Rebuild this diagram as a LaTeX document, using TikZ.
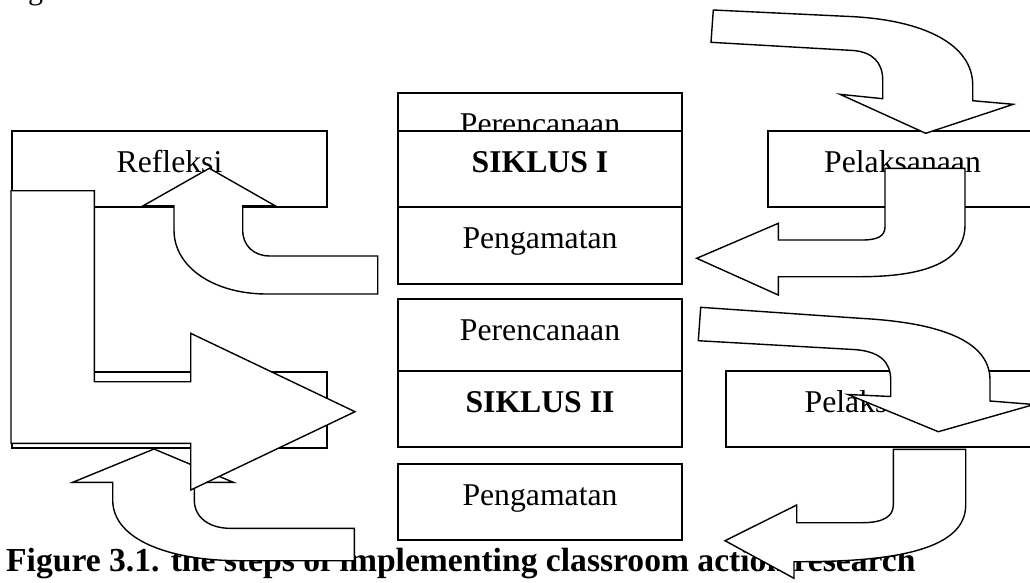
\documentclass[tikz,border=0pt]{standalone}
\usepackage{fontspec}
\setmainfont{Liberation Serif}
\usetikzlibrary{calc}
\tikzset{
  stagebox/.style={
    draw=black,
    line width=2pt,
    fill=white,
    inner sep=0pt,
    anchor=north west
  },
  stagetext/.style={
    font=\fontsize{31.7}{38}\selectfont,
    anchor=base,
    inner sep=0pt
  },
  blockarrow/.style={
    draw=black,
    line width=1.4pt,
    fill=white,
    line join=miter
  },
  captiontext/.style={
    font=\bfseries\fontsize{33.6}{40}\selectfont,
    anchor=base west,
    inner sep=0pt
  }
}
\newcommand{\stagenode}[5]{%
  \node[stagebox, minimum width=#3, minimum height=#4] (#1) at (#2) {};
  \node[stagetext] (#1-text) at ([yshift=-42pt]#1.north) {#5};
}

\begin{document}
\begin{tikzpicture}[x=1pt,y=-1pt]
\useasboundingbox (0,0) rectangle (1030,582);

% Text around the figure.
\node[font=\fontsize{30}{36}\selectfont, anchor=base west, inner sep=0pt] (prevline) at (28,-1) {g};
\node[captiontext] (caption) at (6,571.7) {Figure 3.1. the steps of implementing classroom action research};

% Cycle I column.
\stagenode{planA}{397,92}{284}{76}{Perencanaan}
\stagenode{cycleA}{397,130}{284}{76}{\textbf{SIKLUS I}}
\stagenode{observeA}{397,206}{284}{77}{Pengamatan}

% Cycle II column.
\stagenode{planB}{397,298}{284}{72}{Perencanaan}
\stagenode{cycleB}{397,370}{284}{76}{\textbf{SIKLUS II}}
\stagenode{observeB}{397,463}{284}{76}{Pengamatan}

% Side boxes.
\stagenode{reflectA}{11,130}{315}{76}{Refleksi}
\stagenode{actA}{767,130}{269}{76}{Pelaksanaan}
\node[stagebox, minimum width=315, minimum height=76] (reflectB) at (11,371) {};
\stagenode{actB}{725,370}{314}{76}{Pelaksanaan}

% Observation back to reflection.
\draw[blockarrow] (377.7,256) -- (270,256) .. controls (254,256) and (242.7,246) .. (242.7,230)
  -- (242.7,205.7) -- (275,205.7) -- (209.3,168.3) -- (143.3,205.7) -- (174,205.7) -- (174,230)
  .. controls (174,268) and (215,294) .. (266.7,294) -- (377.7,294) -- cycle;
\draw[blockarrow] (354.3,528.3) -- (230,528.3) .. controls (210,528.3) and (194.3,518) .. (194.3,500)
  -- (194.3,482.3) -- (233.3,482.3) -- (154,449) -- (72.7,482.3) -- (112.7,482.3) -- (112.7,500)
  .. controls (112.7,540) and (170,560.7) .. (240,560.7) -- (354.3,560.7) -- cycle;

% Reflection of cycle I into cycle II.
\draw[blockarrow] (11,190.7) -- (94.3,190.7) -- (94.3,381.7) -- (190.7,381.7) -- (190.7,333.3)
  -- (355,411.7) -- (190.7,490) -- (190.7,443.3) -- (11,443.3) -- cycle;

% Planning to action, action to observation.
\draw[blockarrow] (713.3,10) -- (850,16.5) .. controls (925,20) and (972.7,45) .. (972.7,85)
  -- (972.7,100.7) -- (1013.3,104.3) -- (925.7,133.3) -- (840,94.3) -- (882.7,98.7) -- (882.7,80)
  .. controls (882.7,62) and (872,52) .. (853.3,50.5) -- (711,42.3) -- cycle;
\draw[blockarrow] (885,168.3) -- (965,168.3) -- (965,225) .. controls (965,262) and (925,276.7) .. (860,276.7)
  -- (778.3,276.7) -- (778.3,295) -- (696.7,258.3) -- (778.3,223.3) -- (778.3,240) -- (862,240)
  .. controls (878,240) and (885,236) .. (885,226.7) -- cycle;
\draw[blockarrow] (700.7,307.3) -- (860,318.3) .. controls (950,323) and (990,345) .. (990,380)
  -- (990,401) -- (1034,404.5) -- (938.3,431.7) -- (848,394.5) -- (890.7,396.5) -- (890.7,380)
  .. controls (890.7,362) and (880,351) .. (853.3,349.5) -- (698.3,340.7) -- cycle;
\draw[blockarrow] (893.3,449.3) -- (965.7,449.3) -- (965.7,505) .. controls (965.7,548) and (900,561.7) .. (800,561.7)
  -- (794,561.7) -- (794,578.3) -- (725,540.7) -- (796.7,505) -- (796.7,522.7) -- (862,522.7)
  .. controls (884,522.7) and (893.3,516) .. (893.3,505) -- cycle;

\end{tikzpicture}
\end{document}
